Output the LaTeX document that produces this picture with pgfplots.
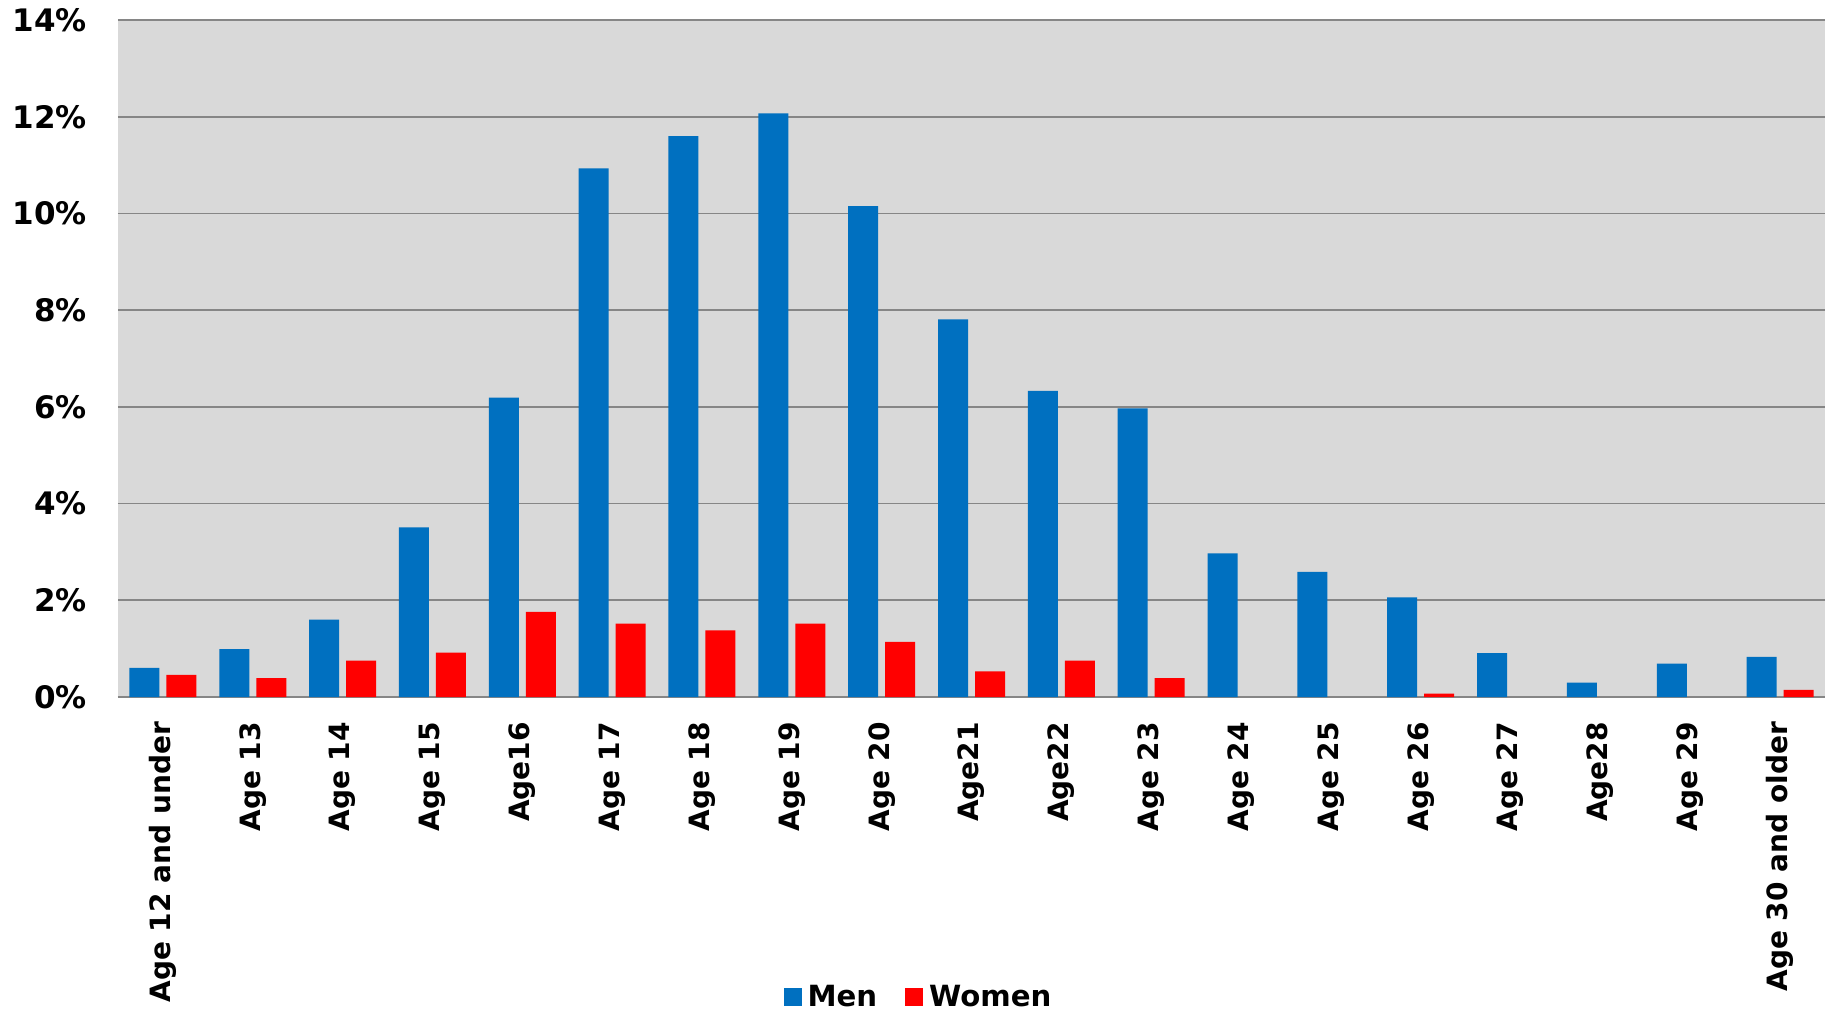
\documentclass[border=0pt]{standalone}
\usepackage{pgfplots}
\pgfplotsset{compat=1.18}
\usepackage{fontspec}
\setmainfont{DejaVu Sans}
\definecolor{menblue}{RGB}{0,112,192}
\definecolor{womenred}{RGB}{255,0,0}
\definecolor{plotbg}{RGB}{217,217,217}
\definecolor{gridgray}{RGB}{134,134,134}
\begin{document}
\begin{tikzpicture}
\begin{axis}[
  scale only axis, width=853.5pt, height=338.5pt,
  ybar=3.5pt, bar width=15pt,
  xmin=-0.5, xmax=18.5, ymin=0, ymax=14,
  xtick={0,...,18},
  xticklabels={Age 12 and under, Age 13, Age 14, Age 15, Age16, Age 17, Age 18, Age 19, Age 20, Age21, Age22, Age 23, Age 24, Age 25, Age 26, Age 27, Age28, Age 29, Age 30 and older},
  ytick={0,2,...,14},
  yticklabel={\pgfmathprintnumber{\tick}\%},
  /pgf/number format/assume math mode=true,
  major tick length=0pt,
  ymajorgrids, grid style={gridgray, line width=0.9pt},
  axis background/.style={fill=plotbg},
  axis x line*=bottom, axis y line*=left,
  x axis line style={gridgray, line width=1.4pt, -},
  y axis line style={draw=none},
  tick label style={font=\fontsize{14}{16}\selectfont\bfseries},
  xticklabel style={rotate=90, anchor=east, xshift=-9pt},
  yticklabel style={xshift=-12pt, font=\fontsize{15.5}{17}\selectfont\bfseries},
  clip=false,
  legend style={at={(axis description cs:0.5,0)}, anchor=center, xshift=-26pt, yshift=-150pt,
    draw=none, fill=none, legend columns=-1, font=\fontsize{14.6}{16}\selectfont\bfseries,
    /tikz/every odd column/.append style={column sep=1pt},
    /tikz/every even column/.append style={column sep=12pt}},
  legend image code/.code={\fill[#1] (0pt,-4.5pt) rectangle (9pt,4.5pt);},
]
% Men
\addplot[fill=menblue, draw=none] coordinates {
  (0,0.60) (1,0.99) (2,1.60) (3,3.51) (4,6.19) (5,10.93) (6,11.60) (7,12.07) (8,10.15) (9,7.81)
  (10,6.33) (11,5.97) (12,2.97) (13,2.59) (14,2.06) (15,0.91) (16,0.30) (17,0.69) (18,0.83)};
% Women (ages 24, 25, 27, 28, 29 are 0)
\addplot[fill=womenred, draw=none] coordinates {
  (0,0.46) (1,0.39) (2,0.75) (3,0.92) (4,1.76) (5,1.52) (6,1.38) (7,1.52) (8,1.14) (9,0.53)
  (10,0.75) (11,0.39) (14,0.07) (18,0.15)};
\legend{Men, Women}
\coordinate (bbsw) at ([xshift=-59pt,yshift=-158pt]rel axis cs:0,0);
\coordinate (bbne) at ([xshift=3pt,yshift=10pt]rel axis cs:1,1);
\end{axis}
\pgfresetboundingbox
\path (bbsw) rectangle (bbne);
\end{tikzpicture}
\end{document}
